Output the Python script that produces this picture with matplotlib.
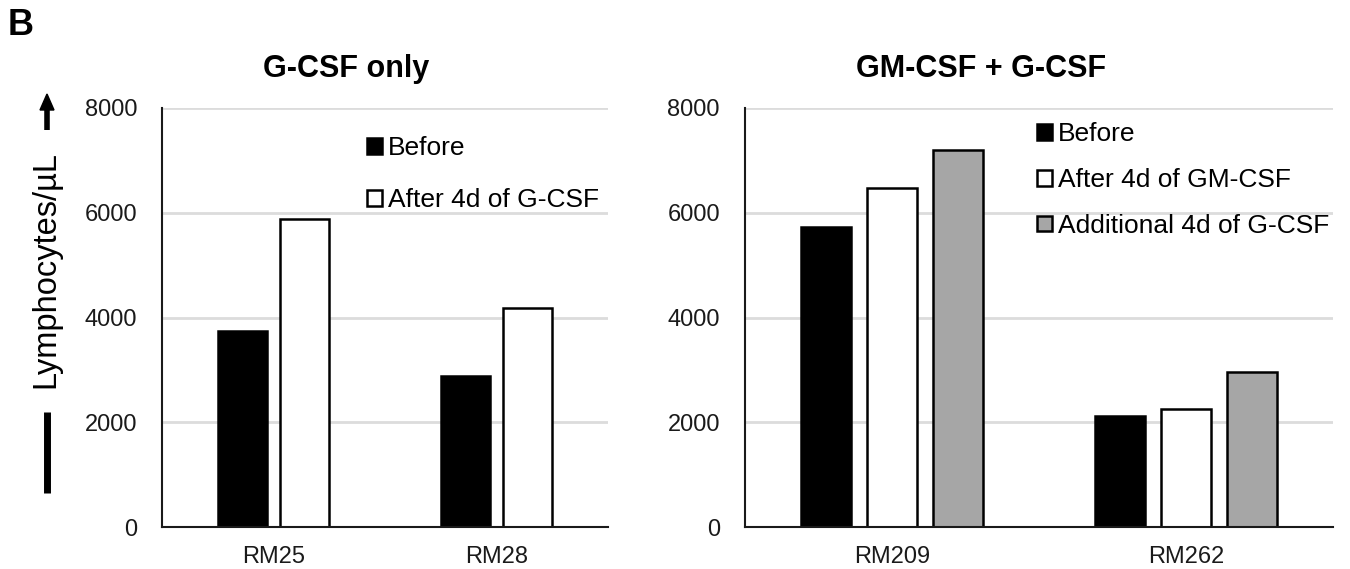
import matplotlib
matplotlib.use("Agg")
import matplotlib.pyplot as plt
import numpy as np
from matplotlib.lines import Line2D

plt.rcParams['font.family'] = ['Liberation Sans', 'DejaVu Sans']

# ---- data ----
left_title = "G-CSF only"
left_categories = ["RM25", "RM28"]
left_before = [3750, 2890]
left_after = [5880, 4180]
left_labels = ["Before", "After 4d of G-CSF"]

right_title = "GM-CSF + G-CSF"
right_categories = ["RM209", "RM262"]
right_before = [5730, 2120]
right_after_gm = [6470, 2250]
right_additional = [7200, 2960]
right_labels = ["Before", "After 4d of GM-CSF", "Additional 4d of G-CSF"]

yticks = [0, 2000, 4000, 6000, 8000]
ylabel = "Lymphocytes/µL"

W, H = 1350, 569
fig = plt.figure(figsize=(W / 100, H / 100), dpi=100)

def fx(px):
    return px / W

def fy(py):
    return 1 - py / H

ax_l = fig.add_axes([fx(162), fy(527), fx(608) - fx(162), fy(108) - fy(527)])
ax_r = fig.add_axes([fx(745), fy(527), fx(1333) - fx(745), fy(108) - fy(527)])

colors = ["black", "white", "#a6a6a6"]

def style(ax, cats):
    ax.set_ylim(0, 8000)
    ax.set_xlim(-0.5, 1.5)
    ax.set_yticks(yticks)
    ax.set_yticklabels([str(t) for t in yticks], fontsize=17, color="#1a1a1a")
    ax.set_xticks(range(len(cats)))
    ax.set_xticklabels(cats, fontsize=17, color="#1a1a1a")
    ax.tick_params(axis="both", length=0)
    ax.tick_params(axis="y", pad=18)
    ax.tick_params(axis="x", pad=14)
    for s in ["top", "right"]:
        ax.spines[s].set_visible(False)
    for s in ["left", "bottom"]:
        ax.spines[s].set_linewidth(1.5)
        ax.spines[s].set_color("#1a1a1a")
    ax.yaxis.grid(True, color="#dcdcdc", linewidth=2)
    ax.set_axisbelow(True)

# left panel
x = np.arange(len(left_categories))
w = 0.22
off = 0.141
ax_l.bar(x - off, left_before, w, color=colors[0], edgecolor="black", linewidth=1.8, label=left_labels[0])
ax_l.bar(x + off, left_after, w, color=colors[1], edgecolor="black", linewidth=1.8, label=left_labels[1])
style(ax_l, left_categories)
ax_l.legend(loc="upper left", bbox_to_anchor=((367 - 162) / 446, (527 - 136) / 419),
            frameon=False, fontsize=19, handlelength=0.55, handleheight=0.55,
            handletextpad=0.25, labelspacing=1.07, borderpad=0, borderaxespad=0)

# right panel
x = np.arange(len(right_categories))
w2 = 0.17
off2 = 0.223
ax_r.bar(x - off2, right_before, w2, color=colors[0], edgecolor="black", linewidth=1.8, label=right_labels[0])
ax_r.bar(x, right_after_gm, w2, color=colors[1], edgecolor="black", linewidth=1.8, label=right_labels[1])
ax_r.bar(x + off2, right_additional, w2, color=colors[2], edgecolor="black", linewidth=1.8, label=right_labels[2])
style(ax_r, right_categories)
ax_r.legend(loc="upper left", bbox_to_anchor=((1037 - 745) / 588, (527 - 122) / 419),
            frameon=False, fontsize=19, handlelength=0.55, handleheight=0.55,
            handletextpad=0.25, labelspacing=0.83, borderpad=0, borderaxespad=0)

# titles
fig.text(fx(346), fy(77), left_title, ha="center", va="baseline", fontsize=22, fontweight="bold")
fig.text(fx(981), fy(77), right_title, ha="center", va="baseline", fontsize=22, fontweight="bold")
fig.text(fx(8), fy(35), "B", ha="left", va="baseline", fontsize=26, fontweight="bold")

# y label with arrow decoration
fig.text(fx(46), fy(269), ylabel, rotation=90, ha="center", va="center", fontsize=23.5)
fig.add_artist(Line2D([fx(47), fx(47)], [fy(412), fy(493)], transform=fig.transFigure,
                      color="black", linewidth=5, solid_capstyle="butt"))
fig.add_artist(Line2D([fx(47), fx(47)], [fy(108), fy(130)], transform=fig.transFigure,
                      color="black", linewidth=4, solid_capstyle="butt"))
fig.add_artist(plt.Polygon([[fx(40), fy(110)], [fx(54), fy(110)], [fx(47), fy(94)]],
                           closed=True, transform=fig.transFigure, color="black"))

fig.savefig("out.png", dpi=100)
